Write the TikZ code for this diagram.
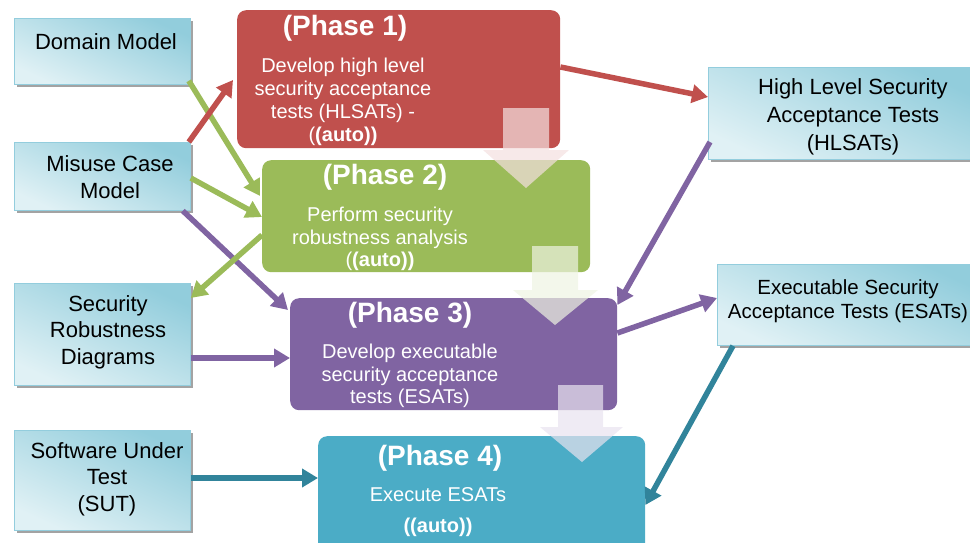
\documentclass[tikz,border=0pt]{standalone}
\usepackage{fontspec}
\setmainfont{Liberation Sans}
\usetikzlibrary{arrows.meta,calc,shadows}

\definecolor{phred}{HTML}{C0504D}
\definecolor{phgreen}{HTML}{9BBB59}
\definecolor{phpurple}{HTML}{8064A2}
\definecolor{phteal}{HTML}{4BACC6}
\definecolor{lnteal}{HTML}{31849B}
\definecolor{boxdark}{HTML}{92CDDC}
\definecolor{boxlight}{HTML}{E0F1F5}
\definecolor{boxedge}{HTML}{93CDDD}
\definecolor{pinkfill}{HTML}{F4E0E0}
\definecolor{greenfill}{HTML}{EEF3E2}
\definecolor{purplefill}{HTML}{E8E3EF}

\tikzset{
  artefact/.style={draw=boxedge, line width=0.8pt,
    top color=boxdark, bottom color=boxlight, shading angle=-25,
    drop shadow={shadow xshift=2.5pt, shadow yshift=-2.5pt, fill=black!40, opacity=0.9},
    anchor=north west, inner sep=0pt},
  phasebox/.style={fill=#1, rounded corners=9pt, anchor=north west, inner sep=0pt},
  arttext/.style={align=center, text=black, font=\fontsize{22}{26.5}\selectfont, inner sep=0pt},
  phasetitle/.style={text=white, font=\bfseries\fontsize{28}{32}\selectfont, inner sep=0pt},
  phasetext/.style={align=center, text=white, font=\fontsize{20}{22.8}\selectfont, inner sep=0pt},
  link/.style={draw=#1, line width=5.5pt, -{Triangle[length=16pt,width=18pt]}},
  flowarrow/.style={fill=#1, opacity=0.7}
}

\begin{document}
\begin{tikzpicture}[x=1pt,y=-1pt]
\useasboundingbox (0,0) rectangle (970,542);
\clip (0,0) rectangle (970,542);

% ---- input and output artefacts
\node[artefact, minimum width=176pt, minimum height=66pt]  (dm)  at (14,18)  {};
\node[artefact, minimum width=176pt, minimum height=68pt]  (mc)  at (14,142) {};
\node[artefact, minimum width=176pt, minimum height=102pt] (srd) at (14,283) {};
\node[artefact, minimum width=176pt, minimum height=100pt] (sut) at (14,430) {};
\node[artefact, minimum width=262pt, minimum height=92pt]  (hl)  at (708,67) {};
\node[artefact, minimum width=262pt, minimum height=81pt]  (es)  at (717,264) {};

\node[arttext] (dmt)  at (106,42)  {Domain Model};
\node[arttext] (mct)  at (110,177) {Misuse Case\\Model};
\node[arttext] (srdt) at (108,332) {Security\\Robustness\\Diagrams};
\node[arttext] (sutt) at (107,479) {Software Under\\Test\\(SUT)};
\node[arttext, font=\fontsize{22}{28}\selectfont] (hlt) at (853,117) {High Level Security\\Acceptance Tests\\(HLSATs)};
\node[arttext, font=\fontsize{20.5}{24.5}\selectfont] (est) at (848,301) {Executable Security\\Acceptance Tests (ESATs)};

% ---- the four phases
\node[phasebox=phred,    minimum width=323pt, minimum height=138pt] (p1) at (237,10)  {};
\node[phasebox=phgreen,  minimum width=328pt, minimum height=112pt] (p2) at (262,160) {};
\node[phasebox=phpurple, minimum width=327pt, minimum height=112pt] (p3) at (290,298) {};
\node[phasebox=phteal,   minimum width=327pt, minimum height=130pt] (p4) at (318,436) {};

\node[phasetitle] (p1t) at (345,28)  {(Phase 1)};
\node[phasetext]  (p1b) at (343,102) {Develop high level\\security acceptance\\tests (HLSATs) -\\(\textbf{(auto))}};
\node[phasetitle] (p2t) at (385,177) {(Phase 2)};
\node[phasetext]  (p2b) at (380,239) {Perform security\\robustness analysis\\(\textbf{(auto))}};
\node[phasetitle] (p3t) at (410,315) {(Phase 3)};
\node[phasetext]  (p3b) at (410,376) {Develop executable\\security acceptance\\tests (ESATs)};
\node[phasetitle] (p4t) at (440,458) {(Phase 4)};
\node[phasetext]  (p4b) at (438,512) {Execute ESATs\\[9pt]\textbf{((auto))}};

% ---- translucent down arrows between phases
\path[flowarrow=pinkfill]   (503,108) -- (549,108) -- (549,150) -- (569,150) -- (526,188) -- (483,150) -- (503,150) -- cycle;
\path[flowarrow=greenfill]  (532,246) -- (578,246) -- (578,290) -- (598,290) -- (555,325) -- (513,290) -- (532,290) -- cycle;
\path[flowarrow=purplefill] (558,385) -- (603,385) -- (603,427) -- (623,427) -- (582,462) -- (540,427) -- (558,427) -- cycle;

% ---- connectors
\draw[link=phgreen]  ($(dm.south east)+(-2,-4)$) -- ($(p2.north west)+(-2,36)$);
\draw[link=phred]    ($(mc.north east)+(-2,0)$)   -- ($(p1.north west)+(-4,70)$);
\draw[link=phgreen]  ($(mc.north east)+(0,36)$)   -- ($(p2.north west)+(0,57)$);
\draw[link=phpurple] ($(mc.south east)+(-8,0)$)   -- ($(p3.north west)+(-2,12)$);
\draw[link=phgreen]  ($(p2.north west)+(0,75)$)   -- ($(srd.north east)+(0,15)$);
\draw[link=phpurple] ($(srd.north east)+(0,75)$)  -- ($(p3.north west)+(0,60)$);
\draw[link=lnteal]   ($(sut.north east)+(0,48)$)  -- ($(p4.north west)+(0,42)$);
\draw[link=phred]    ($(p1.north east)+(0,57)$)   -- ($(hl.north west)+(0,30)$);
\draw[link=phpurple] ($(hl.north west)+(2,75)$)   -- ($(p3.north east)+(0,7)$);
\draw[link=phpurple] ($(p3.north east)+(0,35)$)   -- ($(es.north west)+(0,34)$);
\draw[link=lnteal]   ($(es.south west)+(16,0)$)   -- ($(p4.north east)+(0,69)$);
\end{tikzpicture}
\end{document}
